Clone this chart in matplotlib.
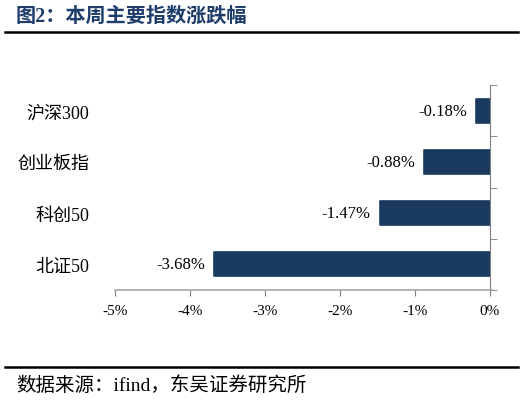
import matplotlib
matplotlib.use("Agg")
import matplotlib.pyplot as plt
from matplotlib.ticker import FixedLocator

plt.rcParams['font.family'] = ['Liberation Serif', 'Noto Sans CJK SC']

indices = ['沪深300', '创业板指', '科创50', '北证50']
changes = [-0.18, -0.88, -1.47, -3.68]
xticks = [-5, -4, -3, -2, -1, 0]
xticklabels = ['-5%', '-4%', '-3%', '-2%', '-1%', '0%']

bar_color = '#1b3a5f'

fig = plt.figure(figsize=(5.28, 4.02), dpi=100)
ax = fig.add_axes([115 / 528, 1 - 291 / 402, 377 / 528, 205 / 402])

pos = list(range(len(indices)))
ax.barh(pos, changes, height=0.47, color=bar_color, edgecolor=bar_color,
        linewidth=1.2, joinstyle='round', zorder=2)
for p, v in zip(pos, changes):
    ax.text(v - 0.12, p, '%.2f%%' % v, ha='right', va='center', fontsize=12, color='black')

ax.set_xlim(-5, 0.03)
ax.set_ylim(3.5, -0.5)
ax.set_xticks(xticks)
ax.set_xticklabels(xticklabels)
ax.set_yticks(pos)
ax.set_yticklabels(indices)
ax.yaxis.set_minor_locator(FixedLocator([-0.5, 0.5, 1.5, 2.5, 3.5]))
ax.tick_params(axis='y', which='major', left=False, right=False, pad=15, labelsize=13)
ax.tick_params(axis='y', which='minor', left=False, right=True, direction='out',
               length=5, color='#7f7f7f')
ax.tick_params(axis='x', direction='out', length=4, color='#7f7f7f', pad=6, labelsize=11)

for s in ['top', 'left']:
    ax.spines[s].set_visible(False)
ax.spines['right'].set_position(('data', 0))
ax.spines['right'].set_color('#7f7f7f')
ax.spines['bottom'].set_color('#a6a6a6')
ax.spines['bottom'].set_linewidth(1.2)

fig.text(16 / 528, 1 - 17 / 402, '图2：本周主要指数涨跌幅', fontsize=14.5, fontweight='bold',
         color='#1f3d6b', va='center', ha='left')
fig.add_artist(plt.Line2D([5 / 528, 518 / 528], [1 - 33 / 402] * 2, color='black', lw=1.8))
fig.add_artist(plt.Line2D([5 / 528, 518 / 528], [1 - 368 / 402] * 2, color='black', lw=1.8))
fig.text(16 / 528, 1 - 386 / 402, '数据来源：ifind，东吴证券研究所', fontsize=14,
         color='black', va='center', ha='left')

fig.savefig('out.png', dpi=100)
